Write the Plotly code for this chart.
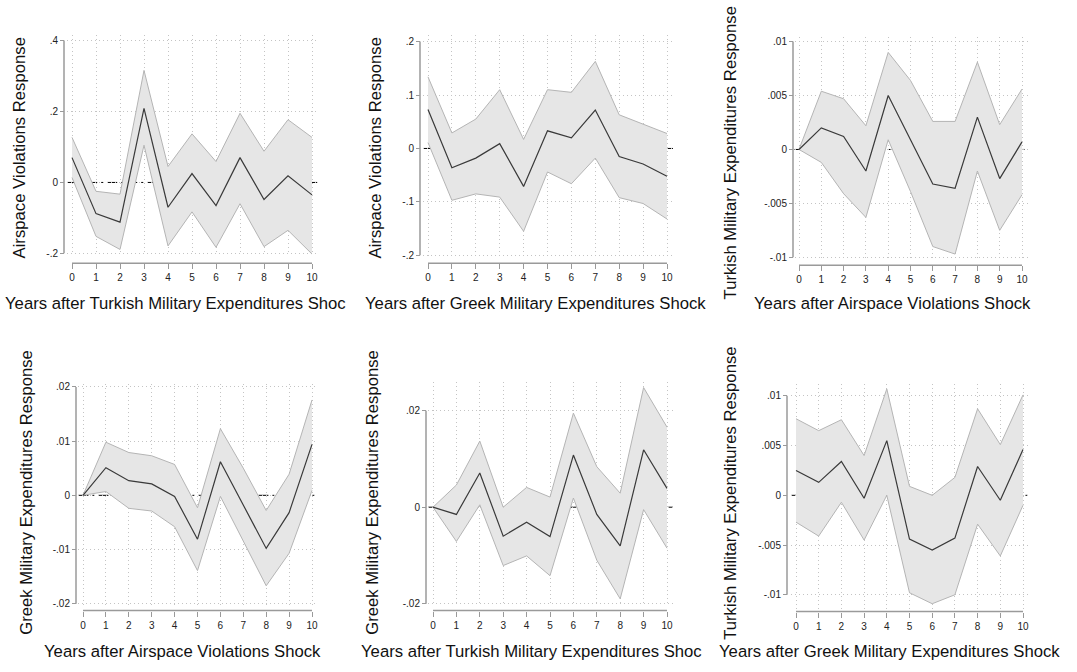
import plotly.graph_objects as go

W, H = 1077, 672

steps = list(range(11))

# Impulse responses with 95% bands (irf, lower, upper) for each shock/response pair
irf_tme_av = [0.070, -0.088, -0.112, 0.209, -0.070, 0.025, -0.065, 0.070, -0.048, 0.019, -0.035]
lo_tme_av = [0.014, -0.152, -0.189, 0.105, -0.179, -0.083, -0.183, -0.060, -0.181, -0.135, -0.202]
hi_tme_av = [0.127, -0.025, -0.033, 0.316, 0.045, 0.137, 0.059, 0.195, 0.088, 0.177, 0.127]

irf_gme_av = [0.073, -0.036, -0.018, 0.009, -0.071, 0.033, 0.020, 0.072, -0.015, -0.029, -0.052]
lo_gme_av = [0.011, -0.097, -0.085, -0.091, -0.155, -0.044, -0.066, -0.018, -0.092, -0.103, -0.132]
hi_gme_av = [0.134, 0.029, 0.055, 0.110, 0.017, 0.110, 0.105, 0.163, 0.063, 0.046, 0.028]

irf_av_tme = [0.0, 0.0020, 0.0012, -0.0020, 0.0050, 0.0009, -0.0032, -0.0036, 0.0030, -0.0027, 0.0007]
lo_av_tme = [0.0, -0.0012, -0.0041, -0.0063, 0.0009, -0.0039, -0.0090, -0.0097, -0.0020, -0.0075, -0.0042]
hi_av_tme = [0.0, 0.0054, 0.0047, 0.0022, 0.0090, 0.0064, 0.0026, 0.0026, 0.0081, 0.0023, 0.0056]

irf_av_gme = [0.0, 0.0051, 0.0027, 0.0021, -0.0002, -0.0081, 0.0062, -0.0017, -0.0098, -0.0032, 0.0094]
lo_av_gme = [0.0, 0.0007, -0.0024, -0.0029, -0.0058, -0.0139, -0.0002, -0.0084, -0.0167, -0.0107, 0.0009]
hi_av_gme = [0.0, 0.0098, 0.0079, 0.0073, 0.0057, -0.0023, 0.0123, 0.0050, -0.0028, 0.0039, 0.0176]

irf_tme_gme = [0.0, -0.0015, 0.0071, -0.0060, -0.0031, -0.0061, 0.0108, -0.0015, -0.0080, 0.0119, 0.0039]
lo_tme_gme = [0.0, -0.0071, 0.0005, -0.0121, -0.0101, -0.0142, 0.0019, -0.0110, -0.0190, -0.0005, -0.0085]
hi_tme_gme = [0.0, 0.0046, 0.0137, 0.0000, 0.0041, 0.0021, 0.0195, 0.0084, 0.0029, 0.0248, 0.0166]

irf_gme_tme = [0.0025, 0.0013, 0.0034, -0.0003, 0.0055, -0.0044, -0.0055, -0.0043, 0.0029, -0.0005, 0.0046]
lo_gme_tme = [-0.0027, -0.0041, -0.0007, -0.0045, 0.0000, -0.0098, -0.0109, -0.0100, -0.0029, -0.0061, -0.0010]
hi_gme_tme = [0.0077, 0.0065, 0.0076, 0.0040, 0.0107, 0.0009, 0.0000, 0.0018, 0.0087, 0.0051, 0.0101]

ticks_av_wide = [-0.2, 0.0, 0.2, 0.4]
ticks_av = [-0.2, -0.1, 0.0, 0.1, 0.2]
ticks_me_small = [-0.01, -0.005, 0.0, 0.005, 0.01]
ticks_me = [-0.02, -0.01, 0.0, 0.01, 0.02]
ticks_me_sparse = [-0.02, 0.0, 0.02]

xtitles = [
    "Years after Turkish Military Expenditures Shoc",
    "Years after Greek Military Expenditures Shock",
    "Years after Airspace Violations Shock",
    "Years after Airspace Violations Shock",
    "Years after Turkish Military Expenditures Shoc",
    "Years after Greek Military Expenditures Shock",
]
ytitles = [
    "Airspace Violations Response",
    "Airspace Violations Response",
    "Turkish Military Expenditures Response",
    "Greek Military Expenditures Response",
    "Greek Military Expenditures Response",
    "Turkish Military Expenditures Response",
]

series = [
    (irf_tme_av, lo_tme_av, hi_tme_av, ticks_av_wide),
    (irf_gme_av, lo_gme_av, hi_gme_av, ticks_av),
    (irf_av_tme, lo_av_tme, hi_av_tme, ticks_me_small),
    (irf_av_gme, lo_av_gme, hi_av_gme, ticks_me),
    (irf_tme_gme, lo_tme_gme, hi_tme_gme, ticks_me_sparse),
    (irf_gme_tme, lo_gme_tme, hi_gme_tme, ticks_me_small),
]

# Panel geometry in pixels: y-axis line x, step-0 x, step-10 x,
# (top tick px, bottom tick px), y range, x-axis line y,
# y-title centre (x, y), x-title centre (x, y)
panels = [
    dict(yax=64, x0=72, x10=312, tpx=(38, 253), yr=(-0.2055, 0.417), xax=263,
         yt=(19, 147), xt=(175, 304)),
    dict(yax=420, x0=428, x10=667, tpx=(39, 255), yr=(-0.205, 0.213), xax=263,
         yt=(375, 147), xt=(535, 304)),
    dict(yax=793, x0=799, x10=1022, tpx=(39, 257), yr=(-0.0102, 0.0104), xax=265,
         yt=(730, 152), xt=(892, 304)),
    dict(yax=76, x0=83, x10=312, tpx=(388, 607), yr=(-0.0205, 0.0205), xax=614,
         yt=(27, 495), xt=(182, 655)),
    dict(yax=426, x0=433, x10=667, tpx=(412, 607), yr=(-0.0205, 0.026), xax=614,
         yt=(373, 495), xt=(531, 655)),
    dict(yax=787, x0=796, x10=1023, tpx=(397, 598), yr=(-0.0114, 0.0112), xax=615,
         yt=(731, 496), xt=(889, 655)),
]

XR = (-0.2, 10.25)
FONT = "Liberation Sans, Arial, sans-serif"
AXC = "#9a9a9a"
GRIDC = "#c4c4c4"
TITLE_SIZE = 16.7


def fmt(v):
    if abs(v) < 1e-12:
        return "0"
    s = ("%g" % v)
    return s.replace("0.", ".")


fig = go.Figure()
layout = dict(
    width=W, height=H, margin=dict(l=0, r=0, t=0, b=0),
    paper_bgcolor="white", plot_bgcolor="white", showlegend=False,
    font=dict(family=FONT, color="#111"),
)
shapes = []
annotations = []

for i, (p, (irf, lo, hi, yt)) in enumerate(zip(panels, series), start=1):
    xa = "x" if i == 1 else f"x{i}"
    ya = "y" if i == 1 else f"y{i}"
    u = (p["x10"] - p["x0"]) / 10.0
    dl = (p["x0"] + XR[0] * u) / W
    dr = (p["x10"] + (XR[1] - 10) * u) / W
    ttop, tbot = max(yt), min(yt)
    s = (p["tpx"][1] - p["tpx"][0]) / (ttop - tbot)
    top_px = p["tpx"][0] - (p["yr"][1] - ttop) * s
    bot_px = p["tpx"][1] + (tbot - p["yr"][0]) * s
    dt = 1 - top_px / H
    db = 1 - bot_px / H

    layout["xaxis" if i == 1 else f"xaxis{i}"] = dict(
        domain=[dl, dr], range=list(XR), anchor="free", position=1 - p["xax"] / H,
        tickvals=steps, ticktext=[str(v) for v in steps],
        ticks="outside", ticklen=5, tickcolor=AXC, tickwidth=1,
        showline=False, zeroline=False,
        showgrid=True, gridcolor=GRIDC, gridwidth=1, griddash="1px,3px",
        tickfont=dict(size=10, color="#222", family=FONT),
    )
    layout["yaxis" if i == 1 else f"yaxis{i}"] = dict(
        domain=[db, dt], range=list(p["yr"]), anchor="free", position=p["yax"] / W,
        tickvals=yt, ticktext=[fmt(v) for v in yt],
        ticks="outside", ticklen=4, tickcolor=AXC, tickwidth=1,
        showline=False, zeroline=False,
        showgrid=True, gridcolor=GRIDC, gridwidth=1, griddash="1px,3px",
        tickfont=dict(size=10, color="#222", family=FONT),
    )

    # axis lines spanning the tick range
    shapes.append(dict(type="line", xref=xa, yref="paper", x0=0, x1=10,
                       y0=1 - p["xax"] / H, y1=1 - p["xax"] / H,
                       line=dict(color=AXC, width=1.5)))
    shapes.append(dict(type="line", xref="paper", yref=ya, x0=p["yax"] / W, x1=p["yax"] / W,
                       y0=tbot, y1=ttop, line=dict(color=AXC, width=1.5)))
    # reference line at zero, beneath the confidence band
    shapes.append(dict(type="line", xref=f"{xa} domain", yref=ya, x0=0, x1=1, y0=0, y1=0,
                       layer="below", line=dict(color="black", width=1, dash="10px,4px,2px,4px")))

    fig.add_trace(go.Scatter(x=steps, y=hi, xaxis=xa, yaxis=ya, mode="lines",
                             line=dict(color="#b4b4b4", width=1), hoverinfo="skip"))
    fig.add_trace(go.Scatter(x=steps, y=lo, xaxis=xa, yaxis=ya, mode="lines",
                             line=dict(color="#b4b4b4", width=1), fill="tonexty",
                             fillcolor="#e6e6e6", hoverinfo="skip"))
    fig.add_trace(go.Scatter(x=steps, y=irf, xaxis=xa, yaxis=ya, mode="lines",
                             line=dict(color="#3a3a3a", width=1.2)))

    annotations.append(dict(text=ytitles[i - 1], xref="paper", yref="paper",
                            x=p["yt"][0] / W, y=1 - p["yt"][1] / H, textangle=-90,
                            xanchor="center", yanchor="middle", showarrow=False,
                            font=dict(size=TITLE_SIZE, family=FONT, color="#111")))
    annotations.append(dict(text=xtitles[i - 1], xref="paper", yref="paper",
                            x=p["xt"][0] / W, y=1 - p["xt"][1] / H,
                            xanchor="center", yanchor="middle", showarrow=False,
                            font=dict(size=TITLE_SIZE, family=FONT, color="#111")))

layout["shapes"] = shapes
layout["annotations"] = annotations
fig.update_layout(**layout)
fig.write_html("out.html")
